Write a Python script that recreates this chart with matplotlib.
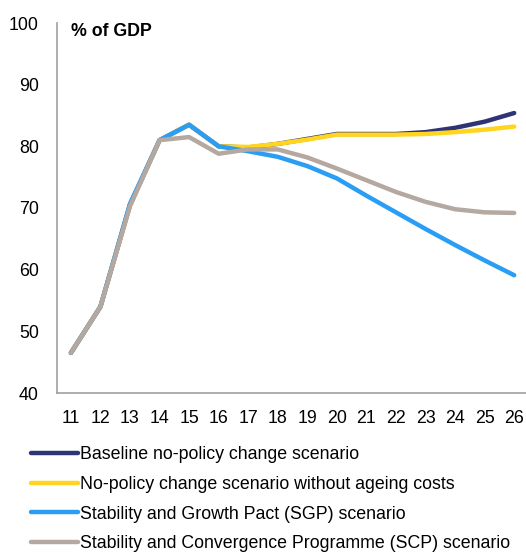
import matplotlib
matplotlib.use("Agg")
import matplotlib.pyplot as plt

years = [11, 12, 13, 14, 15, 16, 17, 18, 19, 20, 21, 22, 23, 24, 25, 26]
baseline = [46.5, 54.0, 70.5, 81.0, 83.5, 80.0, 79.8, 80.4, 81.2, 82.0, 82.0, 82.0, 82.3, 83.0, 84.0, 85.4]
no_ageing = [46.5, 54.0, 70.5, 81.0, 83.5, 80.0, 79.9, 80.4, 81.1, 81.9, 81.9, 81.9, 82.0, 82.3, 82.7, 83.2]
sgp = [46.5, 54.0, 70.7, 81.0, 83.5, 80.0, 79.2, 78.3, 76.8, 74.8, 72.0, 69.3, 66.6, 64.0, 61.5, 59.1]
scp = [46.5, 54.0, 70.3, 81.0, 81.5, 78.8, 79.5, 79.5, 78.2, 76.4, 74.5, 72.6, 71.0, 69.8, 69.3, 69.2]
labels = ["Baseline no-policy change scenario",
          "No-policy change scenario without ageing costs",
          "Stability and Growth Pact (SGP) scenario",
          "Stability and Convergence Programme (SCP) scenario"]
colors = ["#2E3474", "#FFD520", "#2A9DF4", "#B5A8A0"]

plt.rcParams['font.family'] = ['Liberation Sans', 'DejaVu Sans']

fig = plt.figure(figsize=(5.26, 5.53), dpi=100)
ax = fig.add_axes([57/526, 1-393/553, (526-57)/526, 370/553])

for data, lab, c in zip([baseline, no_ageing, sgp, scp], labels, colors):
    ax.plot(years, data, color=c, lw=3.2, label=lab, solid_capstyle='round')

ax.set_ylim(40, 100)
ax.set_xlim(10.53, 26.4)
ax.set_xticks(years)
ax.set_xticklabels([str(y) for y in years])
ax.set_yticks([40, 50, 60, 70, 80, 90, 100])
ax.tick_params(length=0, labelsize=12.8)
ax.tick_params(axis='x', pad=12)
ax.tick_params(axis='y', pad=13)
for s in ['top', 'right']:
    ax.spines[s].set_visible(False)
for s in ['left', 'bottom']:
    ax.spines[s].set_color('#A0A0A0')
    ax.spines[s].set_linewidth(1.2)

ax.text(0.03, 1.0, "% of GDP", transform=ax.transAxes, fontsize=12.8,
        fontweight='bold', va='top', ha='left')

handles, labs = ax.get_legend_handles_labels()
fig.legend(handles, labs, loc='upper left', bbox_to_anchor=(31/526, 1-446/553),
           frameon=False, fontsize=12.8, handlelength=2.65, handletextpad=0.1,
           labelspacing=0.72, borderaxespad=0, borderpad=0, handleheight=0.7)

fig.savefig("out.png", dpi=100)
